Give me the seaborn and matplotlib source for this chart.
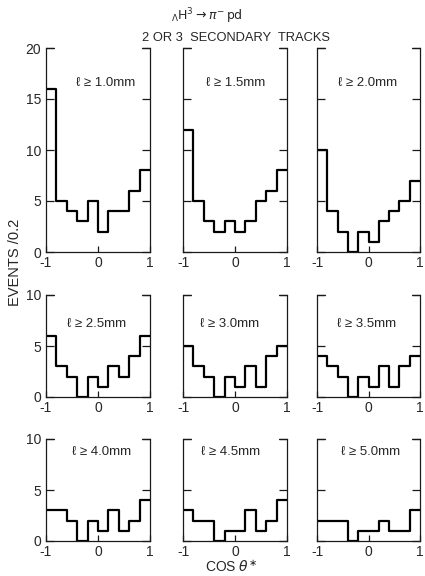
import numpy as np
import pandas as pd
import seaborn as sns
import matplotlib.pyplot as plt

# cos(theta*) bins of width 0.2 from -1 to 1
bin_edges = np.linspace(-1, 1, 11)
bin_centers = (bin_edges[:-1] + bin_edges[1:]) / 2

# track length cuts (mm), one panel each
cuts = ["1.0", "1.5", "2.0", "2.5", "3.0", "3.5", "4.0", "4.5", "5.0"]

# events per bin
counts_1_0 = [16, 5, 4, 3, 5, 2, 4, 4, 6, 8]
counts_1_5 = [12, 5, 3, 2, 3, 2, 3, 5, 6, 8]
counts_2_0 = [10, 4, 2, 0, 2, 1, 3, 4, 5, 7]
counts_2_5 = [6, 3, 2, 0, 2, 1, 3, 2, 4, 6]
counts_3_0 = [5, 3, 2, 0, 2, 1, 3, 1, 4, 5]
counts_3_5 = [4, 3, 2, 0, 2, 1, 3, 1, 3, 4]
counts_4_0 = [3, 3, 2, 0, 2, 1, 3, 1, 2, 4]
counts_4_5 = [3, 2, 2, 0, 1, 1, 3, 1, 2, 4]
counts_5_0 = [2, 2, 2, 0, 1, 1, 2, 1, 1, 3]

all_counts = [counts_1_0, counts_1_5, counts_2_0, counts_2_5, counts_3_0,
              counts_3_5, counts_4_0, counts_4_5, counts_5_0]

df = pd.concat([pd.DataFrame({"cut": c, "cos": bin_centers, "n": v})
                for c, v in zip(cuts, all_counts)], ignore_index=True)

sns.set_style("ticks")
plt.rcParams['font.family'] = ['Liberation Sans', 'DejaVu Sans']
plt.rcParams['axes.unicode_minus'] = False

fig = plt.figure(figsize=(4.25, 5.76), dpi=100)
W, H = 425, 576

# panel boxes in pixels: left, top, width, height
col_left = [46, 183, 317]
col_w = [104, 104, 103]
row_top = [48, 295, 439]
row_h = [204, 102, 102]
row_ymax = [20, 10, 10]

# label positions inside each panel (axes fraction)
lab_pos = [(0.57, 0.83), (0.51, 0.83), (0.49, 0.83),
           (0.49, 0.72), (0.45, 0.72), (0.48, 0.72),
           (0.53, 0.87), (0.46, 0.87), (0.52, 0.87)]

ink = "#1a1a1a"

for i, cut in enumerate(cuts):
    r, c = divmod(i, 3)
    ax = fig.add_axes([col_left[c] / W, 1 - (row_top[r] + row_h[r]) / H,
                       col_w[c] / W, row_h[r] / H])
    sub = df[df["cut"] == cut]
    sns.histplot(data=sub, x="cos", weights="n", bins=len(bin_centers), binrange=(-1, 1),
                 element="step", fill=False, color="black", linewidth=1.6, ax=ax)
    ax.set_xlim(-1, 1)
    ax.set_ylim(0, row_ymax[r])
    ax.set_xticks([-1, 0, 1])
    ax.set_xticklabels(["-1", "0", "1"], fontsize=10)
    ax.set_yticks(np.arange(0, row_ymax[r] + 1, 5))
    if c == 0:
        ax.set_yticklabels([str(t) for t in np.arange(0, row_ymax[r] + 1, 5)], fontsize=10)
    else:
        ax.set_yticklabels([])
    ax.tick_params(axis="y", direction="in", left=True, right=True, length=6,
                   width=0.9, pad=3.5, color=ink)
    ax.tick_params(axis="x", direction="in", length=4, width=0.9, pad=3, color=ink)
    ax.set_xlabel("")
    ax.set_ylabel("")
    ax.spines["top"].set_visible(False)
    for s in ["left", "right", "bottom"]:
        ax.spines[s].set_linewidth(0.9)
        ax.spines[s].set_color(ink)
    # corner brackets instead of a full top edge
    ax.plot([0, 0.075], [1, 1], transform=ax.transAxes, color=ink, lw=0.9, clip_on=False)
    ax.plot([0.925, 1], [1, 1], transform=ax.transAxes, color=ink, lw=0.9, clip_on=False)
    ax.text(lab_pos[i][0], lab_pos[i][1], "\u2113 \u2265 " + cut + "mm",
            transform=ax.transAxes, ha="center", va="center", fontsize=9.5)

fig.text(207 / W, 1 - 16 / H, r"${}_{\Lambda}\mathrm{H}^{3} \rightarrow \pi^{-}\,\mathrm{pd}$",
         ha="center", va="center", fontsize=9)
fig.text(236 / W, 1 - 38 / H, "2 OR 3  SECONDARY  TRACKS", ha="center", va="center", fontsize=9.3)
fig.text(15 / W, 1 - 262 / H, "EVENTS /0.2", rotation=90, ha="center", va="center", fontsize=10.5)
fig.text(231 / W, 1 - 567 / H, r"COS $\theta^{\ast}$", ha="center", va="center", fontsize=10)

plt.savefig("out.png", dpi=100)
